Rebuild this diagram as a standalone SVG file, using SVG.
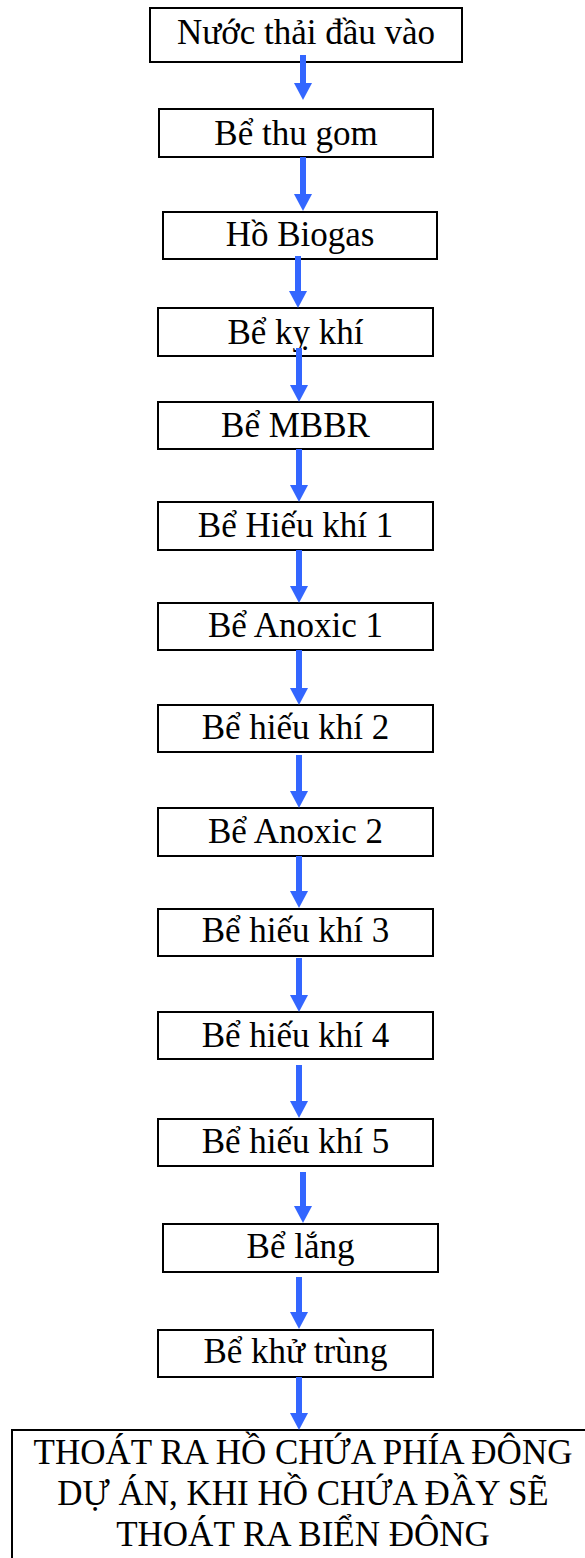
<svg xmlns="http://www.w3.org/2000/svg" width="585" height="1558" viewBox="0 0 585 1558">
  <style>
    .box { fill: #ffffff; stroke: #000000; stroke-width: 2; }
    .lbl { font-family: "Liberation Serif", "Times New Roman", serif; font-size: 35px; fill: #000000; text-anchor: middle; }
    .flow { stroke: #3366ff; stroke-width: 6; fill: none; marker-end: url(#head); }
  </style>
  <defs>
    <marker id="head" markerUnits="userSpaceOnUse" markerWidth="18" markerHeight="20" refX="0" refY="9" orient="auto" viewBox="0 0 18 20" overflow="visible">
      <path d="M0,0 L17,9 L0,18 z" fill="#3366ff"/>
    </marker>
  </defs>
  <rect width="585" height="1558" fill="#ffffff"/>

  <!-- process steps -->
  <g id="n-inlet"><rect class="box" x="150" y="8" width="312" height="54"/><text class="lbl" x="306" y="44">Nước thải đầu vào</text></g>
  <g id="n-collect"><rect class="box" x="159" y="109" width="274" height="48"/><text class="lbl" x="296" y="145">Bể thu gom</text></g>
  <g id="n-biogas"><rect class="box" x="163" y="212" width="274" height="47"/><text class="lbl" x="300" y="246">Hồ Biogas</text></g>
  <g id="n-anaerobic"><rect class="box" x="158" y="308" width="275" height="48"/><text class="lbl" x="295.5" y="344">Bể kỵ khí</text></g>
  <g id="n-mbbr"><rect class="box" x="158" y="402" width="275" height="47"/><text class="lbl" x="295.5" y="437">Bể MBBR</text></g>
  <g id="n-aerobic1"><rect class="box" x="158" y="502" width="275" height="48"/><text class="lbl" x="295.5" y="537">Bể Hiếu khí 1</text></g>
  <g id="n-anoxic1"><rect class="box" x="158" y="603" width="275" height="47"/><text class="lbl" x="295.5" y="637">Bể Anoxic 1</text></g>
  <g id="n-aerobic2"><rect class="box" x="158" y="705" width="275" height="47"/><text class="lbl" x="295.5" y="739">Bể hiếu khí 2</text></g>
  <g id="n-anoxic2"><rect class="box" x="158" y="808" width="275" height="48"/><text class="lbl" x="295.5" y="843">Bể Anoxic 2</text></g>
  <g id="n-aerobic3"><rect class="box" x="158" y="909" width="275" height="47"/><text class="lbl" x="295.5" y="942">Bể hiếu khí 3</text></g>
  <g id="n-aerobic4"><rect class="box" x="158" y="1012" width="275" height="47"/><text class="lbl" x="295.5" y="1047">Bể hiếu khí 4</text></g>
  <g id="n-aerobic5"><rect class="box" x="158" y="1119" width="275" height="47"/><text class="lbl" x="295.5" y="1153">Bể hiếu khí 5</text></g>
  <g id="n-settling"><rect class="box" x="163" y="1224" width="275" height="48"/><text class="lbl" x="300.5" y="1258">Bể lắng</text></g>
  <g id="n-disinfect"><rect class="box" x="158" y="1330" width="275" height="47"/><text class="lbl" x="295.5" y="1363">Bể khử trùng</text></g>
  <g id="n-outlet">
    <rect class="box" x="12" y="1430" width="590" height="140"/>
    <text class="lbl" x="303" y="1464">THOÁT RA HỒ CHỨA PHÍA ĐÔNG</text>
    <text class="lbl" x="303" y="1505">DỰ ÁN, KHI HỒ CHỨA ĐẦY SẼ</text>
    <text class="lbl" x="303" y="1546">THOÁT RA BIỂN ĐÔNG</text>
  </g>

  <!-- flow connectors -->
  <g id="connectors">
    <line class="flow" x1="303" y1="55" x2="303" y2="83"/>
    <line class="flow" x1="303" y1="157" x2="303" y2="194"/>
    <line class="flow" x1="298" y1="256" x2="298" y2="291"/>
    <line class="flow" x1="299" y1="348" x2="299" y2="385"/>
    <line class="flow" x1="299" y1="449" x2="299" y2="485"/>
    <line class="flow" x1="299" y1="550" x2="299" y2="586"/>
    <line class="flow" x1="299" y1="650" x2="299" y2="688"/>
    <line class="flow" x1="299" y1="755" x2="299" y2="791"/>
    <line class="flow" x1="299" y1="856" x2="299" y2="891"/>
    <line class="flow" x1="299" y1="958" x2="299" y2="995"/>
    <line class="flow" x1="299" y1="1065" x2="299" y2="1101"/>
    <line class="flow" x1="303" y1="1172" x2="303" y2="1206"/>
    <line class="flow" x1="299" y1="1277" x2="299" y2="1312"/>
    <line class="flow" x1="299" y1="1377" x2="299" y2="1413"/>
  </g>
</svg>
